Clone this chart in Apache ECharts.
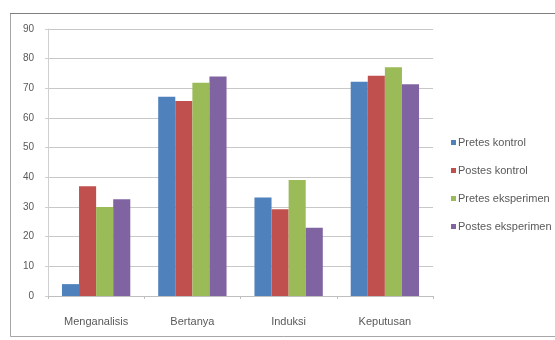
<!DOCTYPE html>
<html>
<head>
<meta charset="utf-8">
<script src="https://cdn.jsdelivr.net/npm/echarts@6/dist/echarts.min.js"></script>
<style>
  html, body { margin: 0; padding: 0; background: #fff; }
  #chart { width: 555px; height: 340px; }
</style>
</head>
<body>
<div id="chart"></div>
<script>
// kategori dan nilai
const categories = ['Menganalisis', 'Bertanya', 'Induksi', 'Keputusan']
const pretesKontrol = [4, 67.2, 33.2, 72.2]
const postesKontrol = [37, 65.7, 29.2, 74.2]
const pretesEksperimen = [30, 71.9, 39.1, 77.1]
const postesEksperimen = [32.6, 74, 23, 71.4]
const seriesNames = ['Pretes kontrol', 'Postes kontrol', 'Pretes eksperimen', 'Postes eksperimen']
const colors = ['#4f81bd', '#c0504d', '#9bbb59', '#8064a2']

const font = '"Liberation Sans Narrow", "Liberation Sans", sans-serif'
const chart = echarts.init(document.getElementById('chart'))

const values = [pretesKontrol, postesKontrol, pretesEksperimen, postesEksperimen]

chart.setOption({
  animation: false,
  color: colors,
  graphic: [
    {
      type: 'rect',
      shape: { x: 10.5, y: 13.5, width: 560, height: 323 },
      style: { fill: 'none', stroke: '#a6a6a6', lineWidth: 1 },
      silent: true
    },
    {
      type: 'line',
      shape: { x1: 10, y1: 13.5, x2: 555, y2: 13.5 },
      style: { stroke: '#7f7f7f', lineWidth: 1 },
      silent: true
    }
  ],
  legend: {
    orient: 'vertical',
    left: 446,
    top: 132,
    itemWidth: 5,
    itemHeight: 5,
    itemGap: 17,
    icon: 'rect',
    textStyle: { fontFamily: font, fontSize: 11, color: '#595959', padding: [0, 0, 0, -3] },
    data: seriesNames
  },
  grid: { left: 48, right: 122, top: 29, bottom: 44 },
  xAxis: {
    type: 'category',
    data: categories,
    axisLine: { lineStyle: { color: '#bfbfbf' } },
    axisTick: { show: true, length: 3, lineStyle: { color: '#bfbfbf' } },
    axisLabel: { fontFamily: font, fontSize: 11, color: '#595959', margin: 20 }
  },
  yAxis: {
    type: 'value',
    min: 0,
    max: 90,
    interval: 10,
    axisLine: { show: true, lineStyle: { color: '#d0d0d0' } },
    axisTick: { show: true, length: 3, lineStyle: { color: '#d0d0d0' } },
    axisLabel: { fontFamily: font, fontSize: 10, color: '#595959', margin: 14 },
    splitLine: { lineStyle: { color: '#c8c8c8' } }
  },
  series: values.map((v, i) => ({
    name: seriesNames[i],
    type: 'bar',
    data: v,
    barGap: '0%',
    barCategoryGap: '29%',
    itemStyle: { color: colors[i] }
  }))
})
</script>
</body>
</html>
